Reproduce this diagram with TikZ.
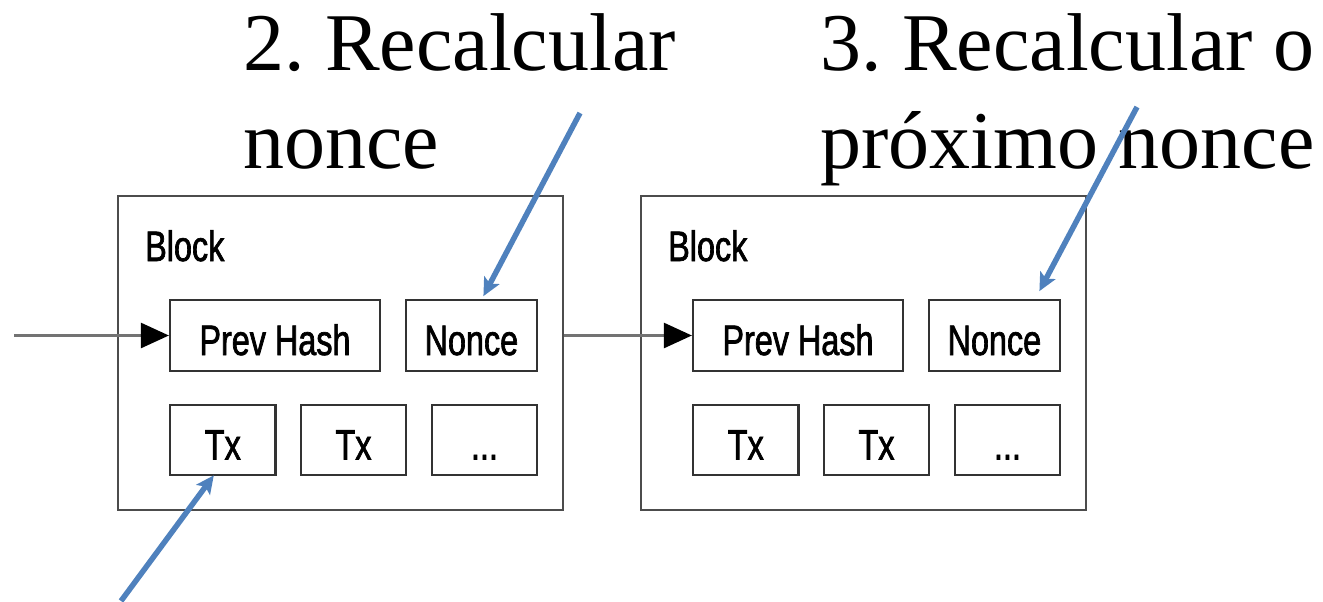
\documentclass[tikz,border=0pt]{standalone}
\usepackage{fontspec}
\setmainfont{Liberation Serif}
\newfontfamily\blocksans[FakeStretch=0.76,FakeBold=1.6]{Liberation Sans}
\usetikzlibrary{arrows.meta,calc}
\definecolor{noteblue}{HTML}{4F81BD}
\frenchspacing

\begin{document}
\begin{tikzpicture}[x=1pt,y=-1pt,
  outerbox/.style={draw=black!70,line width=1.6pt,minimum width=445pt,
    minimum height=314pt,inner sep=0pt},
  sanstext/.style={font=\blocksans\fontsize{42.6pt}{50pt}\selectfont},
  blocklabel/.style={sanstext,inner sep=0pt,anchor=base west},
  field/.style={sanstext,draw=black!80,line width=2.2pt,inner sep=0pt,
    minimum height=70.5pt,text height=39pt,text depth=0pt},
  link/.style={draw=black!55,line width=2.6pt,
    -{Triangle[length=28pt,width=25pt,color=black]}},
  pointer/.style={draw=noteblue,line width=5.5pt,
    -{Stealth[length=18pt,width=17pt,inset=4pt]}},
  note/.style={font=\fontsize{82pt}{98pt}\selectfont,inner sep=0pt,anchor=base west},
  blockpic/.pic={
    \node[outerbox] (-box) at (340.5,353) {};
    \node[blocklabel] (-label) at (145,261) {Block};
    \node[field,minimum width=210pt] (-prev) at (275,335.5) {Prev Hash};
    \node[field,minimum width=131pt] (-nonce) at (471.4,335.5) {Nonce};
    \node[field,minimum width=105.5pt] (-txa) at (222.8,440) {Tx};
    \node[field,minimum width=105pt] (-txb) at (353.5,440) {Tx};
    \node[field,minimum width=105pt] (-more) at (484.4,440) {...};
  }]
\useasboundingbox (0,0) rectangle (1323,602);

% the two chained blocks
\pic (b1) at (0,0) {blockpic};
\pic (b2) at (523,0) {blockpic};

% hash links between blocks
\coordinate (src) at (14,335.5);
\draw[link] (src) -- (b1-prev.west);
\draw[link] (b1-box.east |- b2-prev.west) -- (b2-prev.west);

% step captions
\node[note] (l2a) at (243,70.7) {2. Recalcular};
\node[note] (l2b) at (243,168) {nonce};
\node[note] (l3a) at (820,70.7) {3. Recalcular o};
\node[note] (l3b) at (820,168) {próximo nonce};

% callout arrows
\coordinate (p2) at (580,113);
\coordinate (p3) at (1137,107);
\coordinate (p1) at (121,601);
\draw[pointer] (p2) -- ([xshift=12pt,yshift=3pt]b1-nonce.north);
\draw[pointer] (p3) -- ([xshift=45pt,yshift=8pt]b2-nonce.north);
\draw[pointer] (p1) -- ([xshift=-9pt,yshift=1pt]b1-txa.south);
\end{tikzpicture}
\end{document}
